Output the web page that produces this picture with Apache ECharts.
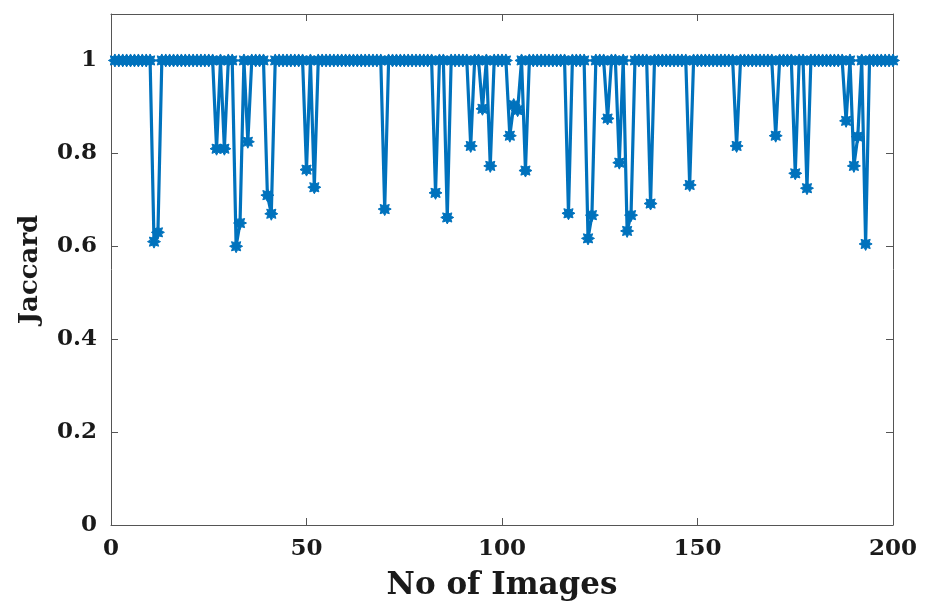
<!DOCTYPE html>
<html>
<head>
<meta charset="utf-8">
<script src="https://cdn.jsdelivr.net/npm/echarts@6/dist/echarts.min.js"></script>
<style>html,body{margin:0;padding:0;background:#fff;}#c{width:925px;height:606px;}</style>
</head>
<body>
<div id="c"></div>
<script>
// Jaccard value per image (images 1..200)
const jaccard = [
  1,1,1,1,1,1,1,1,1,1,
  0.61,0.63,1,1,1,1,1,1,1,1,
  1,1,1,1,1,1,0.81,1,0.81,1,
  1,0.60,0.65,1,0.825,1,1,1,1,0.71,
  0.67,1,1,1,1,1,1,1,1,0.765,
  1,0.727,1,1,1,1,1,1,1,1,
  1,1,1,1,1,1,1,1,1,0.68,
  1,1,1,1,1,1,1,1,1,1,
  1,1,0.715,1,1,0.662,1,1,1,1,
  1,0.816,1,1,0.896,1,0.773,1,1,1,
  1,0.838,0.904,0.893,1,0.763,1,1,1,1,
  1,1,1,1,1,1,0.671,1,1,1,
  1,0.617,0.667,1,1,1,0.875,1,1,0.78,
  1,0.633,0.667,1,1,1,1,0.692,1,1,
  1,1,1,1,1,1,1,0.732,1,1,
  1,1,1,1,1,1,1,1,1,0.816,
  1,1,1,1,1,1,1,1,1,0.838,
  1,1,1,1,0.757,1,1,0.725,1,1,
  1,1,1,1,1,1,1,0.87,1,0.773,
  0.836,1,0.605,1,1,1,1,1,1,1
];
const xTicks = [0, 50, 100, 150, 200];
const yTicks = [0, 0.2, 0.4, 0.6, 0.8, 1];

const data = jaccard.map((v, i) => [i + 1, v]);
const star = 'path://M20 10L15.54 12.3L17.07 17.07L12.3 15.54L10 20L7.7 15.54L2.93 17.07L4.46 12.3L0 10L4.46 7.7L2.93 2.93L7.7 4.46L10 0L12.3 4.46L17.07 2.93L15.54 7.7Z';
const axisCol = '#555555';
const font = 'DejaVu Serif';
const tickLabel = {color: '#1a1a1a', fontFamily: font, fontWeight: 'bold', fontSize: 23};
const line = {show: true, onZero: false, lineStyle: {color: axisCol, width: 1}};
const tick = {show: true, inside: true, length: 7, lineStyle: {color: axisCol}};

const chart = echarts.init(document.getElementById('c'), null, {renderer: 'canvas'});
chart.setOption({
  animation: false,
  backgroundColor: '#fff',
  grid: {left: 111, right: 32, top: 14, bottom: 80},
  xAxis: [{
    type: 'value', min: xTicks[0], max: xTicks[xTicks.length - 1], interval: 50,
    position: 'bottom',
    name: 'No of Images', nameLocation: 'middle', nameGap: 45,
    nameTextStyle: {color: '#1a1a1a', fontFamily: font, fontWeight: 'bold', fontSize: 31},
    axisLine: line, axisTick: tick,
    axisLabel: Object.assign({margin: 13}, tickLabel),
    splitLine: {show: false}
  }, {
    type: 'value', min: 0, max: 200, interval: 50, position: 'top',
    axisLine: line, axisTick: tick,
    axisLabel: {show: false}, splitLine: {show: false}
  }],
  yAxis: [{
    type: 'value', min: 0, max: 1.1, interval: 0.2, position: 'left',
    name: 'Jaccard', nameLocation: 'middle', nameGap: 68,
    nameTextStyle: {color: '#1a1a1a', fontFamily: font, fontWeight: 'bold', fontSize: 26},
    axisLine: line, axisTick: tick,
    axisLabel: Object.assign({margin: 14, formatter: v => yTicks.some(t => Math.abs(t - v) < 1e-6) ? String(+v.toFixed(1)) : ''}, tickLabel),
    splitLine: {show: false}
  }, {
    type: 'value', min: 0, max: 1.1, interval: 0.2, position: 'right',
    axisLine: line, axisTick: tick,
    axisLabel: {show: false}, splitLine: {show: false}
  }],
  series: [{
    type: 'line',
    data: data,
    xAxisIndex: 0, yAxisIndex: 0,
    symbol: star, symbolSize: 13, showAllSymbol: true,
    lineStyle: {color: '#0072BD', width: 3.2},
    itemStyle: {color: '#0072BD', borderColor: '#0072BD', borderWidth: 1},
    z: 3
  }]
});
</script>
</body>
</html>
